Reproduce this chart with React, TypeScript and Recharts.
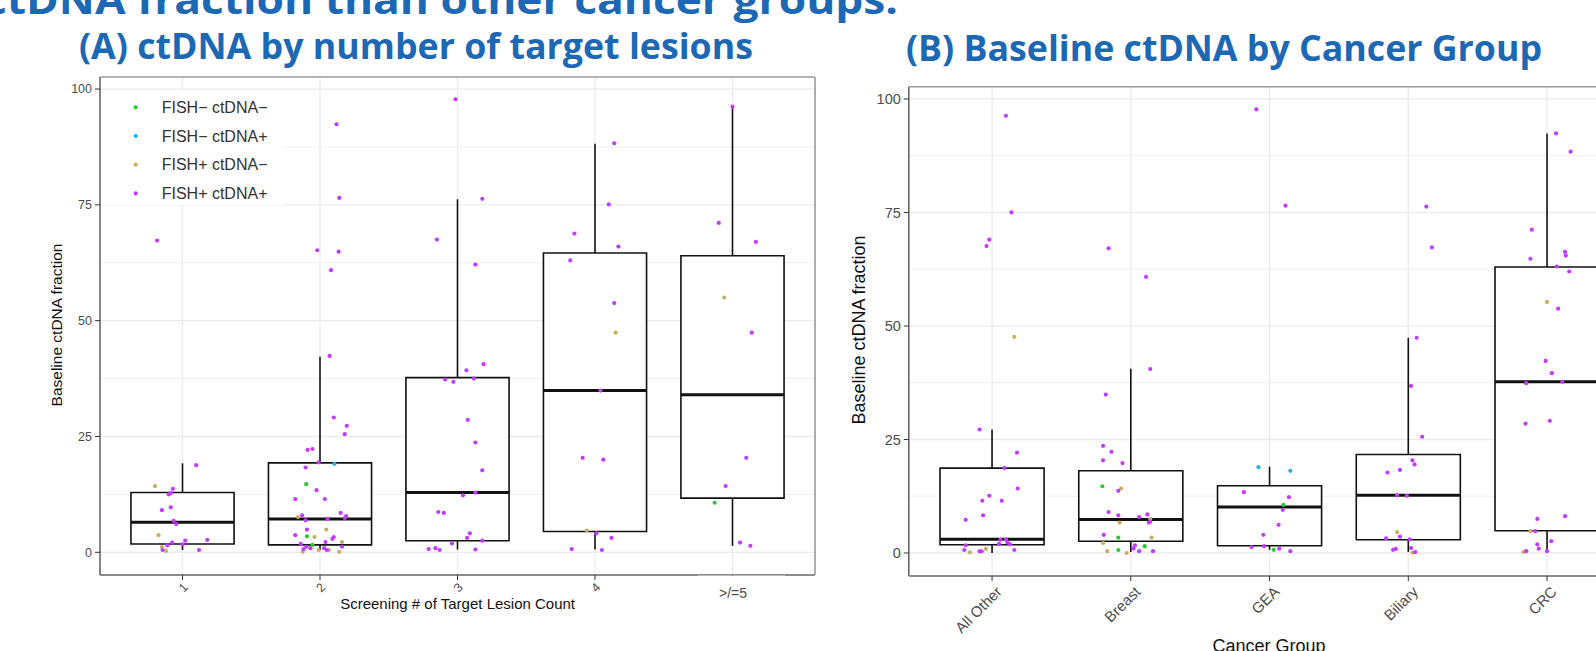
import { ComposedChart, Scatter, XAxis, YAxis, ReferenceLine, ReferenceArea } from "recharts";

const headline = "ctDNA fraction than other cancer groups.";
const titleA = "(A) ctDNA by number of target lesions";
const titleB = "(B) Baseline ctDNA by Cancer Group";

const lesionCats = ["1", "2", "3", "4", ">/=5"];
const cancerCats = ["All Other", "Breast", "GEA", "Biliary", "CRC"];
const catPositions = [1, 2, 3, 4, 5];
const yTicks = [0, 25, 50, 75, 100];
const minorY = [12.5, 37.5, 62.5, 87.5];

const groups = ["FISH− ctDNA−", "FISH− ctDNA+", "FISH+ ctDNA−", "FISH+ ctDNA+"];
const groupColors = ["#2fc832", "#1cb2f5", "#c9ad62", "#c23cff"];

// [lower whisker, q1, median, q3, upper whisker]
const lesionBoxes = [
  [0.5, 1.8, 6.5, 12.9, 19.2],
  [0.5, 1.6, 7.2, 19.3, 42.2],
  [0.6, 2.5, 12.9, 37.7, 76.2],
  [0.6, 4.5, 34.9, 64.6, 88.2],
  [1.4, 11.7, 34.0, 64.0, 96.2],
];
const cancerBoxes = [
  [0, 1.8, 3.0, 18.7, 27.2],
  [0.2, 2.6, 7.4, 18.1, 40.6],
  [0.7, 1.6, 10.1, 14.8, 19.0],
  [0.2, 2.9, 12.7, 21.7, 47.4],
  [0.2, 4.9, 37.7, 63.0, 92.4],
];

// jittered points: [category position, baseline ctDNA fraction]
const lesionGreen = [[1.9, 14.7], [1.905, 3.45], [1.945, 1.6], [4.87, 10.7]];
const lesionCyan = [[2.105, 19.1]];
const lesionTan = [
  [0.8, 14.3], [0.825, 3.7], [0.85, 1.1], [0.88, 0.3],
  [1.84, 7.6], [2.045, 4.9], [1.96, 3.3], [2.16, 2.2], [1.875, 0.1], [1.99, 0.5], [2.065, 0.5], [2.14, 0.1],
  [4.15, 47.4], [3.94, 4.7], [4.94, 55.0],
];
const lesionPurple = [
  [0.815, 67.3], [0.93, 13.7], [0.9, 12.5], [0.915, 12.8], [1.1, 18.8], [0.85, 9.1], [0.915, 9.7],
  [0.935, 6.8], [0.955, 6.1], [1.02, 2.5], [0.925, 2.1], [1.0, 1.7], [1.18, 2.7], [0.89, 1.5], [0.855, 0.5], [1.12, 0.5],
  [2.12, 92.4], [2.14, 76.5], [1.98, 65.2], [2.135, 64.9], [2.08, 60.9], [2.07, 42.4], [2.1, 29.1], [2.195, 27.3],
  [2.18, 25.5], [1.91, 22.1], [1.945, 22.3], [1.99, 19.4], [1.895, 18.3], [1.975, 13.4], [1.82, 11.5], [2.035, 11.5],
  [2.15, 8.5], [2.19, 7.8], [2.18, 7.4], [1.87, 8.0], [1.895, 6.9], [2.055, 7.2], [1.905, 4.9], [1.82, 3.7],
  [2.1, 3.3], [2.09, 2.9], [2.04, 2.2], [1.86, 1.8], [2.16, 1.2], [1.9, 1.2], [1.88, 0.7], [1.93, 0.9], [2.03, 0.9], [2.05, 0.5],
  [2.85, 67.5], [2.985, 97.8], [3.18, 76.3], [3.13, 62.1], [3.065, 39.3], [3.19, 40.6], [2.91, 37.3], [2.97, 36.8],
  [3.12, 37.5], [3.075, 28.6], [3.13, 23.7], [3.18, 17.7], [3.04, 12.3], [3.13, 12.9], [2.86, 8.7], [2.9, 8.5],
  [3.09, 4.1], [3.07, 3.1], [3.18, 2.5], [2.96, 1.9], [2.79, 0.7], [2.84, 0.9], [2.87, 0.5], [3.13, 0.6],
  [4.14, 88.3], [4.1, 75.1], [3.85, 68.8], [4.17, 66.0], [3.82, 63.0], [4.14, 53.8], [4.04, 34.9], [3.91, 20.4],
  [4.06, 20.0], [4.01, 4.1], [4.12, 3.1], [3.83, 0.7], [4.05, 0.5],
  [5.0, 96.2], [4.9, 71.1], [5.17, 67.0], [5.14, 47.4], [5.1, 20.4], [4.95, 14.3], [5.055, 2.1], [5.13, 1.4],
];

const cancerGreen = [[1.795, 14.7], [1.91, 3.4], [2.1, 1.5], [1.91, 0.66], [3.1, 10.6], [3.03, 0.7]];
const cancerCyan = [[2.92, 18.9], [3.15, 18.1]];
const cancerTan = [
  [1.16, 47.6], [0.84, 0.15], [0.955, 0.9],
  [1.93, 14.2], [2.14, 7.5], [1.92, 6.7], [2.15, 3.4], [1.8, 2.2], [1.83, 0.4], [1.97, 0],
  [3.92, 4.6], [4.03, 0.1], [5.0, 55.3], [4.88, 4.8], [4.83, 0.2],
];
const cancerPurple = [
  [1.1, 96.3], [1.14, 75.0], [0.98, 69.0], [0.96, 67.6], [0.91, 27.2], [1.18, 22.1], [1.09, 18.7], [1.185, 14.2],
  [0.98, 12.6], [0.93, 11.5], [1.07, 11.5], [0.935, 8.3], [0.81, 7.3], [1.06, 2.9], [1.1, 3.0], [1.11, 2.35],
  [1.13, 1.9], [1.05, 2.0], [0.81, 1.7], [0.8, 0.66], [0.91, 0.37], [0.925, 0.37], [1.16, 0.66],
  [1.84, 67.1], [2.11, 60.8], [2.14, 40.5], [1.82, 34.9], [1.8, 23.6], [1.86, 22.3], [1.8, 20.4], [1.94, 19.8],
  [1.91, 13.7], [1.84, 9.0], [1.91, 8.3], [2.12, 8.5], [2.06, 7.9], [2.14, 6.9], [2.13, 6.7], [1.805, 4.0],
  [2.03, 1.7], [2.02, 1.0], [2.06, 0.4], [2.16, 0.4],
  [2.905, 97.7], [3.115, 76.5], [2.815, 13.4], [3.14, 12.3], [3.095, 9.5], [3.065, 6.2], [2.955, 4.0],
  [2.87, 1.3], [2.96, 1.5], [3.07, 0.95], [3.15, 0.4],
  [4.13, 76.3], [4.17, 67.3], [4.06, 47.4], [4.02, 36.8], [4.1, 25.6], [4.03, 20.4], [4.045, 19.5], [3.94, 18.3],
  [3.85, 17.7], [3.92, 12.7], [3.99, 12.6], [3.94, 3.6], [3.84, 3.2], [4.01, 3.0], [4.02, 1.1], [3.89, 0.7],
  [3.91, 0.9], [4.05, 0.2],
  [5.065, 92.4], [5.17, 88.4], [4.89, 71.2], [4.88, 64.8], [5.13, 66.3], [5.135, 65.5], [5.07, 63.1], [5.16, 62.0],
  [5.08, 53.8], [4.99, 42.3], [5.035, 39.6], [4.85, 37.4], [5.11, 37.7], [4.845, 28.5], [5.02, 29.1], [4.93, 7.5],
  [5.13, 8.1], [4.915, 4.8], [5.03, 2.6], [4.93, 1.9], [4.94, 0.95], [5.0, 0.4], [4.85, 0.4],
];

const lesionPoints = [lesionGreen, lesionCyan, lesionTan, lesionPurple];
const cancerPoints = [cancerGreen, cancerCyan, cancerTan, cancerPurple];

const BLUE = "#1d68b4";
const GRID = "#ebebeb";

function makeDot(color: string) {
  return (p: any) => <circle cx={p.cx} cy={p.cy} r={2.1} fill={color} />;
}

function LesionTick(props: any) {
  const { x, y, payload } = props;
  const i = catPositions.indexOf(payload.value);
  if (i < 0 || i >= 4) return null;
  return (
    <text
      x={x + 3}
      y={y + 3}
      dy="0.35em"
      textAnchor="end"
      transform={`rotate(-45 ${x + 3} ${y + 3})`}
      fontSize={12.5}
      fill="#4d4d4d"
      fontFamily="Liberation Sans, Arial, sans-serif"
    >
      {lesionCats[i]}
    </text>
  );
}

function CancerTick(props: any) {
  const { x, y, payload } = props;
  const i = catPositions.indexOf(payload.value);
  if (i < 0) return null;
  return (
    <text
      x={x + 7}
      y={y + 6}
      dy="0.35em"
      textAnchor="end"
      transform={`rotate(-45 ${x + 7} ${y + 6})`}
      fontSize={15}
      fill="#4d4d4d"
      fontFamily="Liberation Sans, Arial, sans-serif"
    >
      {cancerCats[i]}
    </text>
  );
}

function BoxPanel({
  boxes,
  points,
  yDomain,
  margin,
  tickSize,
  XTick,
  yAxisWidth,
}: {
  boxes: number[][];
  points: number[][][];
  yDomain: [number, number];
  margin: { top: number; right: number; bottom: number; left: number };
  tickSize: number;
  XTick: any;
  yAxisWidth: number;
}) {
  return (
    <ComposedChart width={830} height={651} margin={margin}>
      <XAxis
        type="number"
        dataKey="x"
        domain={[0.4, 5.6]}
        ticks={catPositions}
        allowDataOverflow
        height={40}
        tick={<XTick />}
        tickSize={5}
        tickLine={{ stroke: "#333" }}
        axisLine={{ stroke: "#666", strokeWidth: 1.6 }}
      />
      <YAxis
        type="number"
        dataKey="y"
        domain={yDomain}
        ticks={yTicks}
        allowDataOverflow
        width={yAxisWidth}
        tickSize={5}
        tickMargin={3}
        tick={{ fill: "#4d4d4d", fontSize: tickSize, fontFamily: "Liberation Sans, Arial, sans-serif" }}
        tickLine={{ stroke: "#333" }}
        axisLine={{ stroke: "#666", strokeWidth: 1.6 }}
      />
      {minorY.map((v) => (
        <ReferenceLine key={"m" + v} y={v} stroke={GRID} strokeWidth={0.8} zIndex={10} />
      ))}
      {yTicks.map((v) => (
        <ReferenceLine key={"y" + v} y={v} stroke={GRID} strokeWidth={1.3} zIndex={10} />
      ))}
      {catPositions.map((c) => (
        <ReferenceLine key={"x" + c} x={c} stroke={GRID} strokeWidth={1.3} zIndex={10} />
      ))}
      {boxes.map((b, i) => (
        <ReferenceLine
          key={"wl" + i}
          segment={[{ x: catPositions[i], y: b[0] }, { x: catPositions[i], y: b[1] }]}
          stroke="#111"
          strokeWidth={1.6}
          zIndex={20}
        />
      ))}
      {boxes.map((b, i) => (
        <ReferenceLine
          key={"wh" + i}
          segment={[{ x: catPositions[i], y: b[3] }, { x: catPositions[i], y: b[4] }]}
          stroke="#111"
          strokeWidth={1.6}
          zIndex={20}
        />
      ))}
      {boxes.map((b, i) => (
        <ReferenceArea
          key={"b" + i}
          x1={catPositions[i] - 0.375}
          x2={catPositions[i] + 0.375}
          y1={b[1]}
          y2={b[3]}
          fill="#fff"
          fillOpacity={1}
          stroke="#111"
          strokeWidth={1.6}
          zIndex={30}
        />
      ))}
      {boxes.map((b, i) => (
        <ReferenceLine
          key={"md" + i}
          segment={[{ x: catPositions[i] - 0.375, y: b[2] }, { x: catPositions[i] + 0.375, y: b[2] }]}
          stroke="#111"
          strokeWidth={3}
          zIndex={40}
        />
      ))}
      {points.map((pts, g) => (
        <Scatter
          key={groups[g]}
          name={groups[g]}
          data={pts.map(([x, y]) => ({ x, y }))}
          shape={makeDot(groupColors[g])}
          isAnimationActive={false}
        />
      ))}
    </ComposedChart>
  );
}

export default function App() {
  const font = "Liberation Sans, Arial, sans-serif";
  return (
    <div
      style={{
        position: "absolute",
        left: 0,
        top: 0,
        width: 1596,
        height: 651,
        overflow: "hidden",
        background: "#fff",
      }}
    >
      <div style={{ position: "absolute", left: 0, top: 0 }}>
        <BoxPanel
          boxes={lesionBoxes}
          points={lesionPoints}
          yDomain={[-4.9, 102.6]}
          margin={{ top: 77, right: 15, bottom: 36, left: 60 }}
          tickSize={12.5}
          XTick={LesionTick}
          yAxisWidth={40}
        />
      </div>
      <div style={{ position: "absolute", left: 830, top: 0 }}>
        <BoxPanel
          boxes={cancerBoxes}
          points={cancerPoints}
          yDomain={[-5.07, 102.7]}
          margin={{ top: 86.7, right: 29.7, bottom: 35, left: 28.8 }}
          tickSize={14.5}
          XTick={CancerTick}
          yAxisWidth={50}
        />
      </div>
      <svg
        width={1596}
        height={651}
        style={{ position: "absolute", left: 0, top: 0, pointerEvents: "none" }}
      >
        <text x={-16} y={14} textLength={914} lengthAdjust="spacingAndGlyphs" fontSize={40} fontWeight={700} fill={BLUE} fontFamily="Open Sans, sans-serif">
          {headline}
        </text>
        <text x={79} y={59} textLength={674} lengthAdjust="spacingAndGlyphs" fontSize={35} fontWeight={700} fill={BLUE} fontFamily="Open Sans, sans-serif">
          {titleA}
        </text>
        <text x={906} y={61} textLength={636} lengthAdjust="spacingAndGlyphs" fontSize={35} fontWeight={700} fill={BLUE} fontFamily="Open Sans, sans-serif">
          {titleB}
        </text>

        {/* panel frames (top / right edges) */}
        <line x1={100} y1={77} x2={815} y2={77} stroke="#9a9a9a" strokeWidth={1.6} />
        <line x1={815} y1={77} x2={815} y2={575} stroke="#9a9a9a" strokeWidth={1.6} />
        <line x1={908.8} y1={86.7} x2={1596} y2={86.7} stroke="#9a9a9a" strokeWidth={1.6} />

        {/* legend */}
        <rect x={102} y={90} width={181} height={115} fill="#fff" />
        {groups.map((g, i) => (
          <g key={g}>
            <circle cx={135.7} cy={107.3 + i * 28.7} r={2.1} fill={groupColors[i]} />
            <text x={161.7} y={107.3 + i * 28.7} dy="0.36em" fontSize={16} fill="#333" fontFamily={font}>
              {g}
            </text>
          </g>
        ))}

        {/* pasted-over last category label */}
        <rect x={698} y={575.6} width={87} height={30} fill="#fff" />
        <text x={733} y={598} textAnchor="middle" fontSize={14} fill="#4d4d4d" fontFamily={font}>
          {lesionCats[4]}
        </text>

        {/* axis titles */}
        <text x={457.6} y={609} textAnchor="middle" fontSize={15} fill="#111" fontFamily={font}>
          Screening # of Target Lesion Count
        </text>
        <text x={0} y={0} transform="translate(61.5 325) rotate(-90)" textAnchor="middle" fontSize={15.5} fill="#111" fontFamily={font}>
          Baseline ctDNA fraction
        </text>
        <text x={0} y={0} transform="translate(865 330) rotate(-90)" textAnchor="middle" fontSize={18} fill="#111" fontFamily={font}>
          Baseline ctDNA fraction
        </text>
        <text x={1269} y={652} textAnchor="middle" fontSize={18} fill="#111" fontFamily={font}>
          Cancer Group
        </text>
      </svg>
    </div>
  );
}
